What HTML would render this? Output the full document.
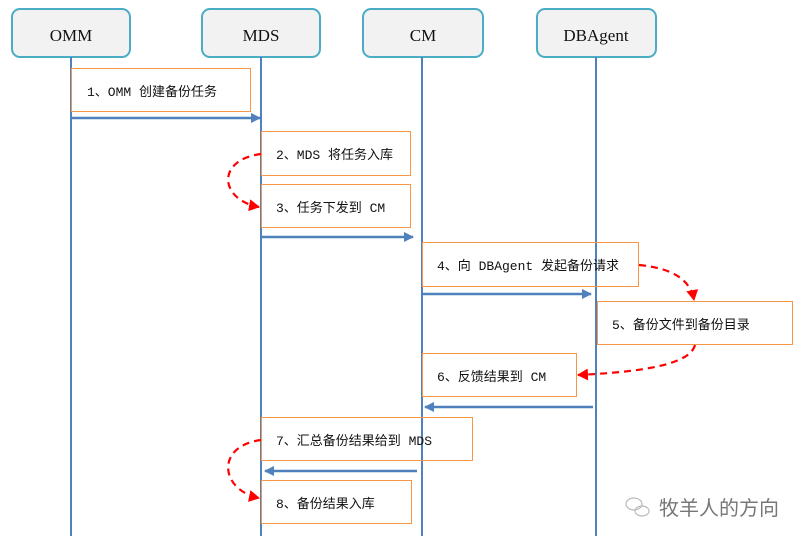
<!DOCTYPE html>
<html><head><meta charset="utf-8"><style>
html,body{margin:0;padding:0;background:#fff;}
svg{display:block;}
.h{font-family:"Liberation Serif","Noto Serif CJK SC",serif;font-size:17px;fill:#111;}
.t{font-family:"Liberation Mono","Noto Sans CJK SC",monospace;font-size:13px;fill:#111;}
</style></head><body>
<svg width="804" height="542" viewBox="0 0 804 542" xmlns="http://www.w3.org/2000/svg">
<defs>
<marker id="b" markerWidth="10" markerHeight="10" refX="9" refY="5" orient="auto" markerUnits="userSpaceOnUse"><path d="M0,0 L10,5 L0,10 z" fill="#4f81bd"/></marker>
<marker id="r" markerWidth="12" markerHeight="12" refX="10" refY="6" orient="auto" markerUnits="userSpaceOnUse"><path d="M0,0 L11,6 L0,12 z" fill="#f00"/></marker>
</defs>
<g stroke="#4bacc6" stroke-width="2" fill="#f2f2f2">
<rect x="12" y="9" width="118" height="48" rx="8"/>
<rect x="202" y="9" width="118" height="48" rx="8"/>
<rect x="363" y="9" width="120" height="48" rx="8"/>
<rect x="537" y="9" width="119" height="48" rx="8"/>
</g>
<text class="h" x="71" y="41" text-anchor="middle">OMM</text>
<text class="h" x="261" y="41" text-anchor="middle">MDS</text>
<text class="h" x="423" y="41" text-anchor="middle">CM</text>
<text class="h" x="596" y="41" text-anchor="middle">DBAgent</text>
<g stroke="#4f81bd" stroke-width="2">
<line x1="71" y1="57" x2="71" y2="536"/>
<line x1="261" y1="57" x2="261" y2="536"/>
<line x1="422" y1="57" x2="422" y2="536"/>
<line x1="596" y1="57" x2="596" y2="536"/>
</g>
<g stroke="#f79646" stroke-width="1" fill="none">
<rect x="71.5" y="68.5" width="179" height="43"/>
<rect x="261.5" y="131.5" width="149" height="44"/>
<rect x="261.5" y="184.5" width="149" height="43"/>
<rect x="422.5" y="242.5" width="216" height="44"/>
<rect x="597.5" y="301.5" width="195" height="43"/>
<rect x="422.5" y="353.5" width="154" height="43"/>
<rect x="261.5" y="417.5" width="211" height="43"/>
<rect x="261.5" y="480.5" width="150" height="43"/>
</g>
<text class="t" x="87" y="96">1、OMM 创建备份任务</text>
<text class="t" x="276" y="159">2、MDS 将任务入库</text>
<text class="t" x="276" y="212">3、任务下发到 CM</text>
<text class="t" x="437" y="270">4、向 DBAgent 发起备份请求</text>
<text class="t" x="612" y="329">5、备份文件到备份目录</text>
<text class="t" x="437" y="381">6、反馈结果到 CM</text>
<text class="t" x="276" y="445">7、汇总备份结果给到 MDS</text>
<text class="t" x="276" y="508">8、备份结果入库</text>
<g stroke="#4f81bd" stroke-width="2.5" fill="none">
<line x1="72" y1="118" x2="260" y2="118" marker-end="url(#b)"/>
<line x1="262" y1="237" x2="413" y2="237" marker-end="url(#b)"/>
<line x1="423" y1="294" x2="591" y2="294" marker-end="url(#b)"/>
<line x1="593" y1="407" x2="425" y2="407" marker-end="url(#b)"/>
<line x1="417" y1="471" x2="265" y2="471" marker-end="url(#b)"/>
</g>
<g stroke="#f00" stroke-width="2.2" fill="none" stroke-dasharray="7,5">
<path d="M261,154 C215,160 220,200 259,207" marker-end="url(#r)"/>
<path d="M639,265 C670,268 690,278 694,300" marker-end="url(#r)"/>
<path d="M695,345 C690,365 640,372 578,375" marker-end="url(#r)"/>
<path d="M261,440 C215,446 220,490 259,498" marker-end="url(#r)"/>
</g>
<g stroke="#bbb" stroke-width="1.2" fill="none">
<ellipse cx="634" cy="504" rx="8" ry="6"/>
<ellipse cx="642" cy="511" rx="7" ry="5"/>
</g>
<text x="659" y="515" font-family="'Noto Sans CJK SC',sans-serif" font-size="20" fill="#777">牧羊人的方向</text>
</svg>
</body></html>
